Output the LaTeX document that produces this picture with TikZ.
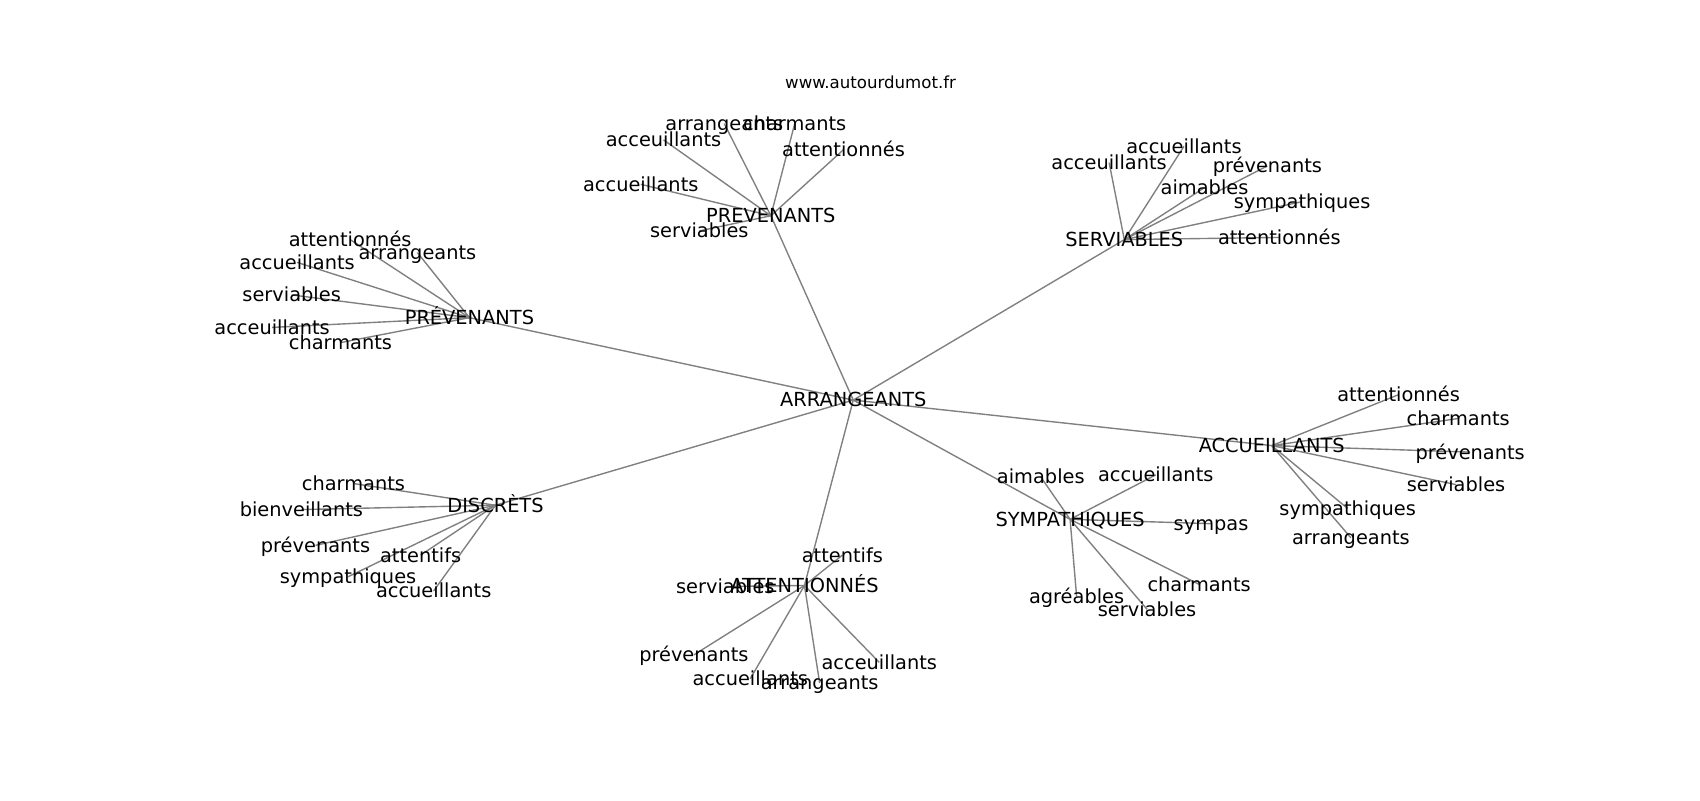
\documentclass[tikz,border=0pt]{standalone}
\usepackage{fontspec}
\setmainfont{DejaVu Sans}
\usetikzlibrary{backgrounds}

\begin{document}
\begin{tikzpicture}[x=0.7806bp,y=0.7806bp,
  word/.style={inner sep=0pt,text height=1em,text depth=0pt,font=\fontsize{14}{16}\selectfont},
  title/.style={inner sep=0pt,font=\fontsize{12}{14}\selectfont},
  link/.style={draw=gray,line width=1bp}]
\useasboundingbox (0,0) rectangle (1568,-738);
\node [title] (site) at (803,-76) {www.autourdumot.fr};
% centre and hubs
\node [word] (arr) at (787,-369) {ARRANGEANTS};
\node [word] (prvA) at (711,-199) {PREVENANTS};
\node [word] (serv) at (1037,-221) {SERVIABLES};
\node [word] (prvB) at (433,-293) {PRÉVENANTS};
\node [word] (disc) at (457,-466) {DISCRÈTS};
\node [word] (att) at (742,-540) {ATTENTIONNÉS};
\node [word] (symp) at (987,-479) {SYMPATHIQUES};
\node [word] (acc) at (1173,-411) {ACCUEILLANTS};
% leaves
\node [word] (prvA1) at (668,-114) {arrangeants};
\node [word] (prvA2) at (733,-114) {charmants};
\node [word] (prvA3) at (612,-129) {acceuillants};
\node [word] (prvA4) at (778,-138) {attentionnés};
\node [word] (prvA5) at (591,-170) {accueillants};
\node [word] (prvA6) at (645,-213) {serviables};
\node [word] (serv1) at (1092,-135) {accueillants};
\node [word] (serv2) at (1023,-150) {acceuillants};
\node [word] (serv3) at (1169,-153) {prévenants};
\node [word] (serv4) at (1111,-173) {aimables};
\node [word] (serv5) at (1201,-186) {sympathiques};
\node [word] (serv6) at (1180,-219) {attentionnés};
\node [word] (prvB1) at (323,-221) {attentionnés};
\node [word] (prvB2) at (385,-233) {arrangeants};
\node [word] (prvB3) at (274,-242) {accueillants};
\node [word] (prvB4) at (269,-272) {serviables};
\node [word] (prvB5) at (251,-302) {acceuillants};
\node [word] (prvB6) at (314,-316) {charmants};
\node [word] (disc1) at (326,-446) {charmants};
\node [word] (disc2) at (278,-470) {bienveillants};
\node [word] (disc3) at (291,-503) {prévenants};
\node [word] (disc4) at (388,-512) {attentifs};
\node [word] (disc5) at (321,-532) {sympathiques};
\node [word] (disc6) at (400,-545) {accueillants};
\node [word] (att1) at (777,-512) {attentifs};
\node [word] (att2) at (669,-541) {serviables};
\node [word] (att3) at (640,-604) {prévenants};
\node [word] (att4) at (692,-626) {accueillants};
\node [word] (att5) at (756,-630) {arrangeants};
\node [word] (att6) at (811,-611) {acceuillants};
\node [word] (symp1) at (960,-440) {aimables};
\node [word] (symp2) at (1066,-438) {accueillants};
\node [word] (symp3) at (1117,-483) {sympas};
\node [word] (symp4) at (1106,-539) {charmants};
\node [word] (symp5) at (993,-550) {agréables};
\node [word] (symp6) at (1058,-562) {serviables};
\node [word] (acc1) at (1290,-364) {attentionnés};
\node [word] (acc2) at (1345,-386) {charmants};
\node [word] (acc3) at (1356,-417) {prévenants};
\node [word] (acc4) at (1343,-447) {serviables};
\node [word] (acc5) at (1243,-469) {sympathiques};
\node [word] (acc6) at (1246,-496) {arrangeants};
% edges under the words
\begin{scope}[on background layer]
\foreach \h in {prvA,serv,prvB,disc,att,symp,acc}
  \draw [link] (arr.center) -- (\h.center);
\foreach \h in {prvA,serv,prvB,disc,att,symp,acc}
  \foreach \l in {1,...,6}
    \draw [link] (\h.center) -- (\h\l.center);
\end{scope}
\end{tikzpicture}
\end{document}
